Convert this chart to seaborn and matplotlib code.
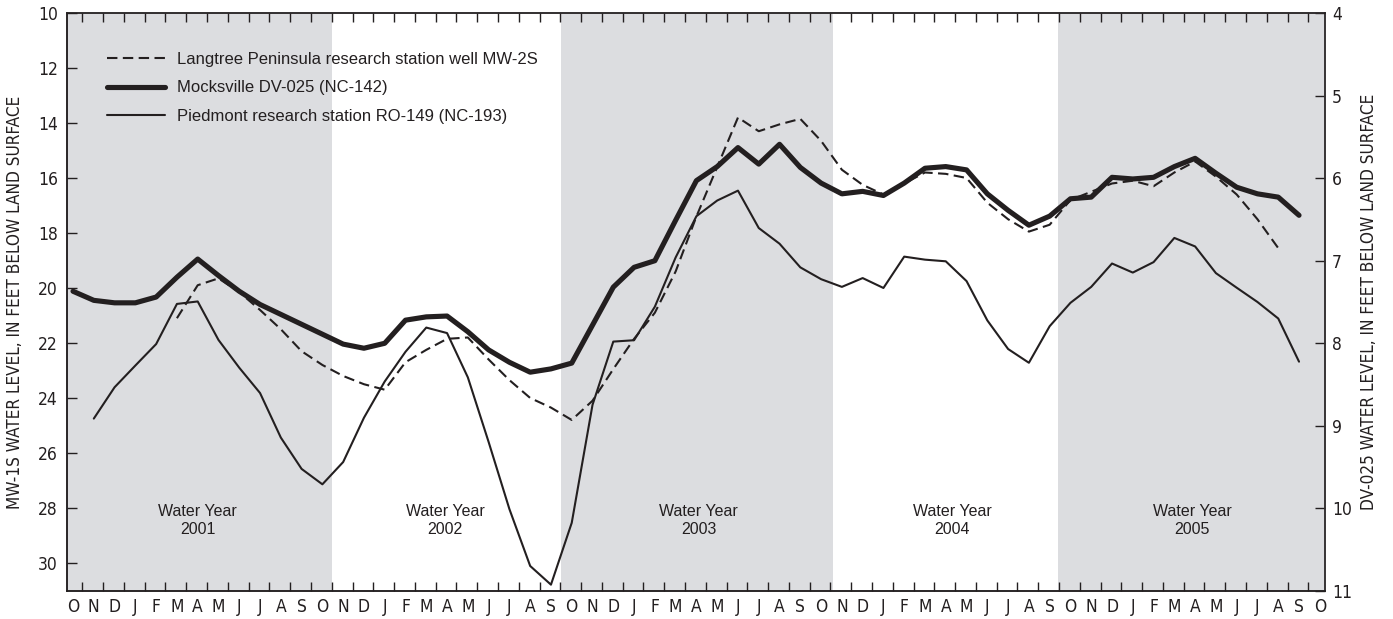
import matplotlib
matplotlib.use('Agg')
import matplotlib.pyplot as plt
import seaborn as sns
import numpy as np
from matplotlib import font_manager as fm
from matplotlib.lines import Line2D

# ---------------- data ----------------
MONTH_LABELS = list('ONDJFMAMJJAS') * 5 + ['O']          # Oct 2000 ... Oct 2005
WATER_YEARS = ['2001', '2002', '2003', '2004', '2005']
WY_CENTERS = [6.0, 17.9, 30.1, 42.3, 53.85]
SHADED_SPANS = [(-0.29, 12.45), (23.5, 36.55), (47.4, 60.25)]   # WY 2001, 2003, 2005

LEGEND_LABELS = ['Langtree Peninsula research station well MW-2S',
                 'Mocksville DV-025 (NC-142)',
                 'Piedmont research station RO-149 (NC-193)']

# Langtree MW-2S (left axis, ft below land surface), Mar 2001 - Aug 2005
langtree_start = 5
langtree_ft = [21.1, 19.9, 19.65, 20.15, 20.8, 21.5, 22.3, 22.8, 23.2, 23.5,
               23.7, 22.7, 22.25, 21.85, 21.8, 22.6, 23.35, 24.0, 24.35, 24.8,
               24.1, 22.95, 21.85, 20.9, 19.4, 17.4, 15.6, 13.8, 14.3, 14.05,
               13.85, 14.65, 15.7, 16.25, 16.6, 16.2, 15.8, 15.85, 16.0, 16.9,
               17.5, 17.95, 17.7, 16.8, 16.5, 16.2, 16.1, 16.3, 15.8, 15.4,
               15.95, 16.6, 17.5, 18.55]

# Mocksville DV-025 (right axis), Oct 2000 - Sep 2005
mocksville_start = 0
mocksville_ft = [7.37, 7.48, 7.51, 7.51, 7.44, 7.20, 6.98, 7.18, 7.37, 7.53,
                 7.65, 7.77, 7.89, 8.01, 8.06, 8.00, 7.72, 7.68, 7.67, 7.86,
                 8.08, 8.23, 8.35, 8.31, 8.24, 7.78, 7.32, 7.08, 7.00, 6.51,
                 6.03, 5.86, 5.63, 5.83, 5.59, 5.87, 6.06, 6.19, 6.16, 6.21,
                 6.06, 5.88, 5.86, 5.90, 6.19, 6.39, 6.57, 6.46, 6.25, 6.23,
                 5.99, 6.01, 5.99, 5.86, 5.76, 5.94, 6.11, 6.19, 6.23, 6.45]

# Piedmont RO-149 (left axis), Nov 2000 - Sep 2005
piedmont_start = 1
piedmont_ft = [24.75, 23.61, 22.82, 22.04, 20.58, 20.49, 21.89, 22.9, 23.82, 25.44,
               26.58, 27.14, 26.33, 24.72, 23.4, 22.32, 21.44, 21.64, 23.25, 25.6,
               28.04, 30.11, 30.79, 28.54, 24.25, 21.95, 21.9, 20.68, 18.89, 17.39,
               16.82, 16.46, 17.82, 18.39, 19.25, 19.68, 19.96, 19.64, 20.0, 18.86,
               18.97, 19.03, 19.75, 21.18, 22.22, 22.72, 21.39, 20.54, 19.96, 19.11,
               19.44, 19.06, 18.18, 18.49, 19.46, 19.99, 20.51, 21.11, 22.68]

# ---------------- style ----------------
sns.set_theme(style='white')
available = {f.name for f in fm.fontManager.ttflist}
if 'Liberation Sans Narrow' in available:
    NARROW = dict(family='Liberation Sans Narrow')
else:
    NARROW = dict(family='DejaVu Sans', stretch='condensed')
REGULAR = 'Liberation Sans' if 'Liberation Sans' in available else 'DejaVu Sans'
plt.rcParams['font.family'] = [REGULAR, 'DejaVu Sans']
INK = '#231f20'
SHADE = '#dcdde0'

W, H = 1393, 619
fig = plt.figure(figsize=(W / 100, H / 100), dpi=100)
L, R, T, B = 67, 1325, 13, 591
ax = fig.add_axes([L / W, 1 - B / H, (R - L) / W, (B - T) / H])
ax2 = ax.twinx()
ax.set_zorder(1)
ax.patch.set_visible(False)

for x0, x1 in SHADED_SPANS:
    ax2.axvspan(x0, x1, color=SHADE, lw=0, zorder=0)

lt_x = np.arange(langtree_start, langtree_start + len(langtree_ft))
mk_x = np.arange(mocksville_start, mocksville_start + len(mocksville_ft))
pd_x = np.arange(piedmont_start, piedmont_start + len(piedmont_ft))

dash = (0, (5, 2.6))
sns.lineplot(x=lt_x, y=langtree_ft, ax=ax, color=INK, lw=1.5, legend=False)
ax.lines[-1].set_linestyle(dash)
sns.lineplot(x=pd_x, y=piedmont_ft, ax=ax, color=INK, lw=1.5, legend=False)
sns.lineplot(x=mk_x, y=mocksville_ft, ax=ax2, color=INK, lw=3.7, legend=False)

# axes limits & ticks
ax.set_xlim(-0.29, 60.25)
ax.set_ylim(31.02, 10)
ax2.set_ylim(11, 4)

ax.set_xticks(np.arange(len(MONTH_LABELS)))
ax.set_xticklabels(MONTH_LABELS, fontsize=12.5, color=INK, **NARROW)
ax.set_xticks(np.arange(60) + 0.45, minor=True)
ax.tick_params(axis='x', which='major', length=0, pad=5)
ax.tick_params(axis='x', which='minor', direction='in', length=6.5, width=1,
               top=True, bottom=True, color=INK)

ax.set_yticks(np.arange(10, 31, 2))
ax.set_yticklabels([str(v) for v in range(10, 31, 2)], fontsize=12.5, color=INK, **NARROW)
ax.tick_params(axis='y', which='major', direction='in', length=7, width=1,
               left=True, right=False, pad=6.5, color=INK)

ax2.set_yticks(np.arange(4, 12))
ax2.set_yticklabels([str(v) for v in range(4, 12)], fontsize=12.5, color=INK, **NARROW)
ax2.tick_params(axis='y', which='major', direction='in', length=7, width=1,
                right=True, left=False, pad=5, color=INK)
ax2.tick_params(axis='x', which='both', length=0)

ax.grid(False)
ax2.grid(False)

ax.set_ylabel('MW-1S WATER LEVEL, IN FEET BELOW LAND SURFACE', fontsize=12.3,
              color=INK, labelpad=10, **NARROW)
ax2.set_ylabel('DV-025 WATER LEVEL, IN FEET BELOW LAND SURFACE', fontsize=12.3,
               color=INK, labelpad=6, rotation=90, **NARROW)

for a in (ax, ax2):
    for side in ('left', 'bottom', 'top', 'right'):
        a.spines[side].set_visible(True)
        a.spines[side].set_color(INK)
        a.spines[side].set_linewidth(1.1)
ax2.spines['right'].set_color('#6d6e70')
ax2.spines['top'].set_color('#555555')

for year, xc in zip(WATER_YEARS, WY_CENTERS):
    ax.text(xc, 28.45, f'Water Year\n{year}', ha='center', va='center',
            fontsize=11.5, color=INK, linespacing=1.2, zorder=5)

handles = [Line2D([], [], color=INK, lw=1.5, linestyle=dash),
           Line2D([], [], color=INK, lw=3.7),
           Line2D([], [], color=INK, lw=1.5)]
leg = ax.legend(handles, LEGEND_LABELS, loc='upper left',
                bbox_to_anchor=((107 - L) / (R - L), 1 - (52 - T) / (B - T)),
                frameon=False, fontsize=12, handlelength=3.5, handletextpad=0.7,
                labelspacing=0.8, borderaxespad=0, borderpad=0)
for t in leg.get_texts():
    t.set_color(INK)

fig.savefig('out.png', dpi=100)
